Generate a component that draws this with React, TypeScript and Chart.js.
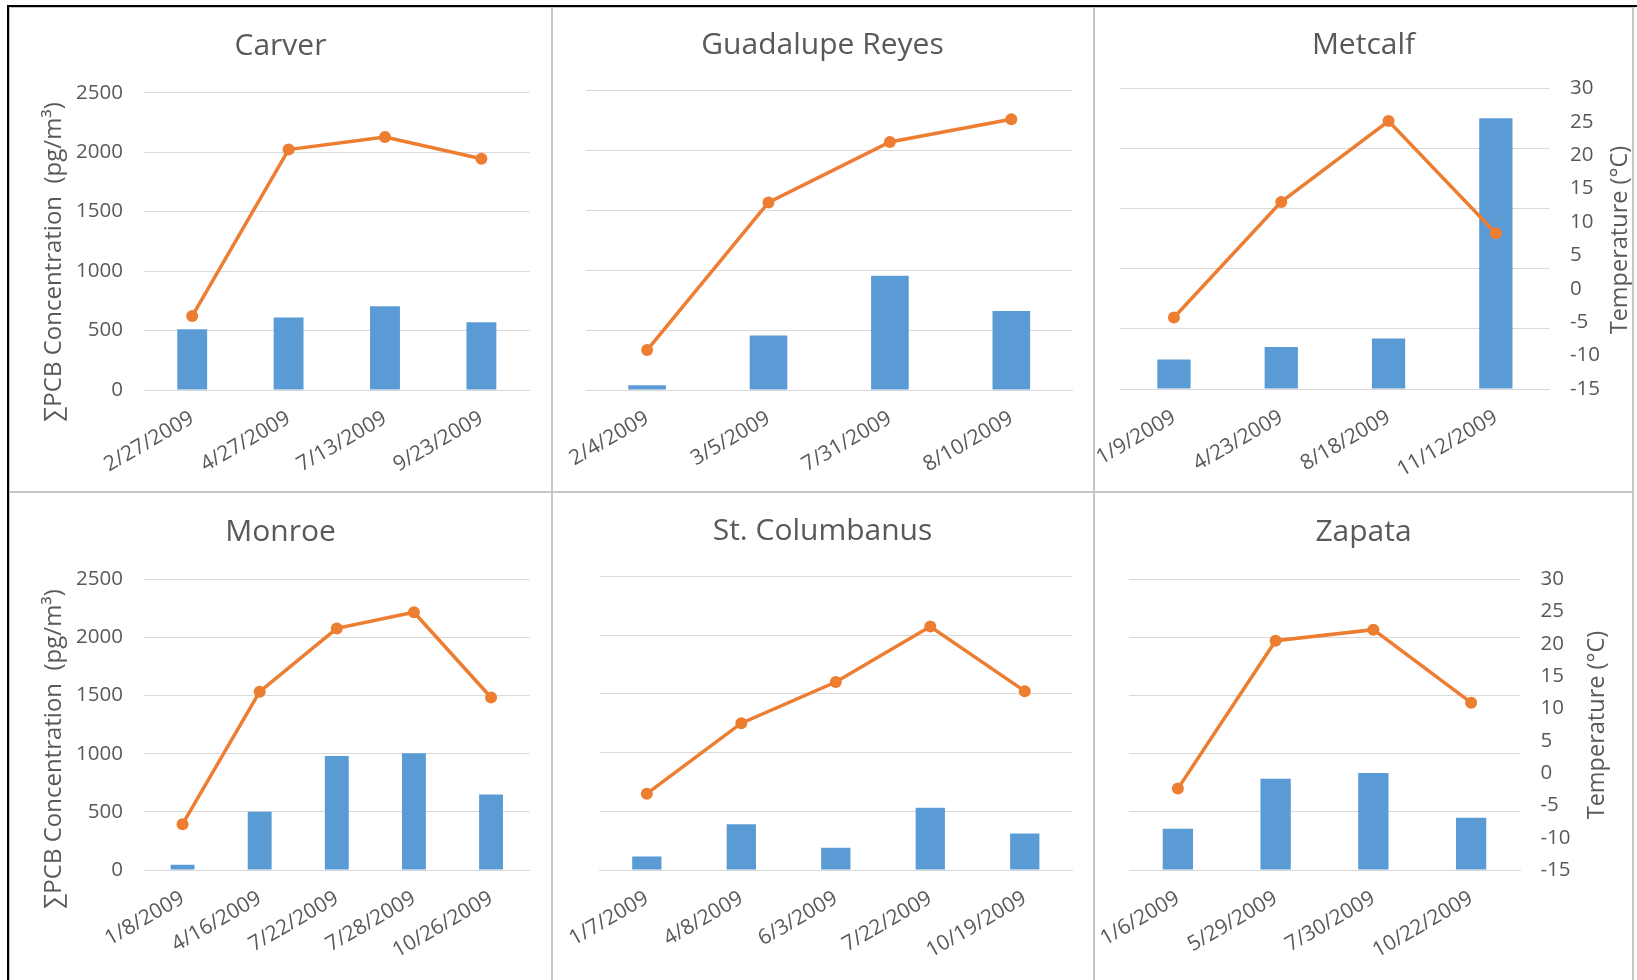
import React, { useEffect, useRef } from 'react';
import { Chart, registerables } from 'chart.js';

Chart.register(...registerables);

// ---------------- Data ----------------
const carverDates = ['2/27/2009', '4/27/2009', '7/13/2009', '9/23/2009'];
const carverPCB = [510, 610, 705, 570];
const carverTemp = [-3.8, 21.4, 23.3, 20.0];

const guadalupeDates = ['2/4/2009', '3/5/2009', '7/31/2009', '8/10/2009'];
const guadalupePCB = [40, 455, 955, 660];
const guadalupeTemp = [-9.0, 13.2, 22.3, 25.7];

const metcalfDates = ['1/9/2009', '4/23/2009', '8/18/2009', '11/12/2009'];
const metcalfPCB = [245, 350, 420, 2250];
const metcalfTemp = [-4.3, 13.0, 25.1, 8.3];

const monroeDates = ['1/8/2009', '4/16/2009', '7/22/2009', '7/28/2009', '10/26/2009'];
const monroePCB = [45, 500, 980, 1005, 650];
const monroeTemp = [-7.9, 12.6, 22.4, 24.9, 11.7];

const stColumbanusDates = ['1/7/2009', '4/8/2009', '6/3/2009', '7/22/2009', '10/19/2009'];
const stColumbanusPCB = [115, 390, 190, 530, 310];
const stColumbanusTemp = [-3.3, 7.5, 13.8, 22.3, 12.4];

const zapataDates = ['1/6/2009', '5/29/2009', '7/30/2009', '10/22/2009'];
const zapataPCB = [355, 785, 835, 450];
const zapataTemp = [-2.4, 20.5, 22.2, 10.9];

const pcbAxis = { min: 0, max: 2500, step: 500 };
const tempAxis = { min: -15, max: 30, step: 5 };

const PCB_TITLE = '\u2211PCB Concentration  (pg/m\u00B3)';
const TEMP_TITLE = 'Temperature (\u00B0C)';

// ---------------- Styles ----------------
const BAR_COLOR = '#5B9BD5';
const LINE_COLOR = '#ED7D31';
const TEXT = '#595959';
const GRID = '#d9d9d9';
const FRAME = '#c6c6c6';
const FONT = "'Open Sans', 'DejaVu Sans', sans-serif";

type TitleItem = { text: string; x: number; y: number; size: number };

type Spec = {
  title: string;
  dates: string[];
  pcb: number[];
  temp: number[];
  left: number;
  top: number;
  W: number;
  H: number;
  plotTop: number;
  plotBottom: number;
  yW: number;
  y1W: number;
  titleY: number;
  showLeft: boolean;
  showRight: boolean;
  axisTitles: TitleItem[];
};

function makeAxisTitlePlugin(items: TitleItem[]) {
  return {
    id: 'axisTitlesCustom',
    afterDraw(chart: any) {
      const ctx = chart.ctx as CanvasRenderingContext2D;
      items.forEach((it) => {
        ctx.save();
        ctx.translate(it.x, it.y);
        ctx.rotate(-Math.PI / 2);
        ctx.font = `${it.size}px ${FONT}`;
        ctx.fillStyle = TEXT;
        ctx.textAlign = 'center';
        ctx.textBaseline = 'middle';
        ctx.fillText(it.text, 0, 0);
        ctx.restore();
      });
    },
  };
}

const plainTick = (v: any) => `${v}`;

function Panel({ spec }: { spec: Spec }) {
  const ref = useRef<HTMLCanvasElement>(null);
  useEffect(() => {
    const canvas = ref.current!;
    const chart = new Chart(canvas, {
      type: 'bar',
      data: {
        labels: spec.dates,
        datasets: [
          {
            type: 'line',
            data: spec.temp,
            yAxisID: 'y1',
            borderColor: LINE_COLOR,
            backgroundColor: LINE_COLOR,
            borderWidth: 3.5,
            pointRadius: 6,
            pointBorderWidth: 0,
            pointBackgroundColor: LINE_COLOR,
            tension: 0,
            order: 1,
          } as any,
          {
            type: 'bar',
            data: spec.pcb,
            yAxisID: 'y',
            backgroundColor: BAR_COLOR,
            borderWidth: 0,
            barPercentage: 0.31,
            categoryPercentage: 1,
            order: 2,
          } as any,
        ],
      },
      options: {
        responsive: false,
        animation: false,
        devicePixelRatio: 1,
        layout: { padding: 0 },
        plugins: {
          legend: { display: false },
          tooltip: { enabled: false },
          title: {
            display: true,
            text: spec.title,
            color: TEXT,
            font: { family: FONT, size: 30, weight: 'normal', lineHeight: 1.2 },
            padding: { top: spec.titleY - 18, bottom: spec.plotTop - spec.titleY - 18 },
          },
        },
        scales: {
          x: {
            offset: true,
            grid: { display: false, drawTicks: false },
            border: { display: true, color: GRID, width: 1 },
            ticks: {
              color: TEXT,
              font: { family: FONT, size: 21 },
              minRotation: 30,
              maxRotation: 30,
              autoSkip: false,
              padding: 16,
            },
            afterFit: (s: any) => {
              s.height = spec.H - spec.plotBottom;
              s.paddingLeft = 0;
              s.paddingRight = 0;
            },
          },
          y: {
            position: 'left',
            min: pcbAxis.min,
            max: pcbAxis.max,
            ticks: {
              stepSize: pcbAxis.step,
              display: spec.showLeft,
              color: TEXT,
              font: { family: FONT, size: 20.5 },
              padding: 21,
              callback: plainTick,
            },
            grid: { color: GRID, lineWidth: 1, drawTicks: false },
            border: { display: false },
            afterFit: (s: any) => {
              s.width = spec.yW;
              s.paddingTop = 0;
              s.paddingBottom = 0;
            },
          },
          y1: {
            position: 'right',
            min: tempAxis.min,
            max: tempAxis.max,
            ticks: {
              stepSize: tempAxis.step,
              display: spec.showRight,
              color: TEXT,
              font: { family: FONT, size: 20.5 },
              padding: 20.5,
              callback: plainTick,
            },
            grid: { display: false, drawTicks: false },
            border: { display: false },
            afterFit: (s: any) => {
              s.width = spec.y1W;
              s.paddingTop = 0;
              s.paddingBottom = 0;
            },
          },
        },
      } as any,
      plugins: [makeAxisTitlePlugin(spec.axisTitles)],
    });
    return () => chart.destroy();
  }, []);
  return (
    <canvas
      ref={ref}
      width={spec.W}
      height={spec.H}
      style={{ position: 'absolute', left: spec.left, top: spec.top, width: spec.W, height: spec.H }}
    />
  );
}

const COL_X = [10, 553, 1095];
const COL_W = [541, 539, 537];
const ROW_Y = [8, 493];
const ROW_H = [483, 487];

const specs: Spec[] = [
  {
    title: 'Carver', dates: carverDates, pcb: carverPCB, temp: carverTemp,
    left: COL_X[0], top: ROW_Y[0], W: COL_W[0], H: ROW_H[0],
    plotTop: 84.7, plotBottom: 382, yW: 134, y1W: 21.4, titleY: 38,
    showLeft: true, showRight: false,
    axisTitles: [{ text: PCB_TITLE, x: 44, y: 254, size: 24 }],
  },
  {
    title: 'Guadalupe Reyes', dates: guadalupeDates, pcb: guadalupePCB, temp: guadalupeTemp,
    left: COL_X[1], top: ROW_Y[0], W: COL_W[1], H: ROW_H[0],
    plotTop: 82.7, plotBottom: 382, yW: 33.4, y1W: 20, titleY: 37,
    showLeft: false, showRight: false,
    axisTitles: [],
  },
  {
    title: 'Metcalf', dates: metcalfDates, pcb: metcalfPCB, temp: metcalfTemp,
    left: COL_X[2], top: ROW_Y[0], W: COL_W[2], H: ROW_H[0],
    plotTop: 80.3, plotBottom: 381, yW: 25.3, y1W: 82.5, titleY: 37.3,
    showLeft: false, showRight: true,
    axisTitles: [{ text: TEMP_TITLE, x: 525, y: 232, size: 23.5 }],
  },
  {
    title: 'Monroe', dates: monroeDates, pcb: monroePCB, temp: monroeTemp,
    left: COL_X[0], top: ROW_Y[1], W: COL_W[0], H: ROW_H[1],
    plotTop: 86.3, plotBottom: 377, yW: 134, y1W: 21.4, titleY: 39.5,
    showLeft: true, showRight: false,
    axisTitles: [{ text: PCB_TITLE, x: 44.5, y: 256, size: 24 }],
  },
  {
    title: 'St. Columbanus', dates: stColumbanusDates, pcb: stColumbanusPCB, temp: stColumbanusTemp,
    left: COL_X[1], top: ROW_Y[1], W: COL_W[1], H: ROW_H[1],
    plotTop: 83.3, plotBottom: 377, yW: 46.6, y1W: 20, titleY: 38.7,
    showLeft: false, showRight: false,
    axisTitles: [],
  },
  {
    title: 'Zapata', dates: zapataDates, pcb: zapataPCB, temp: zapataTemp,
    left: COL_X[2], top: ROW_Y[1], W: COL_W[2], H: ROW_H[1],
    plotTop: 86.3, plotBottom: 377, yW: 34, y1W: 112, titleY: 39.5,
    showLeft: false, showRight: true,
    axisTitles: [{ text: TEMP_TITLE, x: 502, y: 232, size: 23.5 }],
  },
];

function Rule({ x, y, w, h, c }: { x: number; y: number; w: number; h: number; c: string }) {
  return <div style={{ position: 'absolute', left: x, top: y, width: w, height: h, background: c }} />;
}

export default function App() {
  useEffect(() => {
    document.body.style.overflow = 'hidden';
  }, []);
  return (
    <div style={{ position: 'absolute', left: 0, top: 0, width: 1637, height: 980, overflow: 'hidden', background: '#ffffff' }}>
      {specs.map((s) => (
        <Panel key={s.title} spec={s} />
      ))}
      {/* inner light frame */}
      <Rule x={9} y={7} w={1626} h={1} c={FRAME} />
      <Rule x={9} y={7} w={1} h={973} c={FRAME} />
      <Rule x={551} y={7} w={2} h={973} c={FRAME} />
      <Rule x={1093} y={7} w={2} h={973} c={FRAME} />
      <Rule x={1632} y={7} w={2} h={973} c={FRAME} />
      <Rule x={9} y={491} w={1625} h={2} c={FRAME} />
      {/* outer black frame */}
      <Rule x={7} y={5} w={1630} h={2} c="#000000" />
      <Rule x={7} y={5} w={2} h={975} c="#000000" />
    </div>
  );
}
